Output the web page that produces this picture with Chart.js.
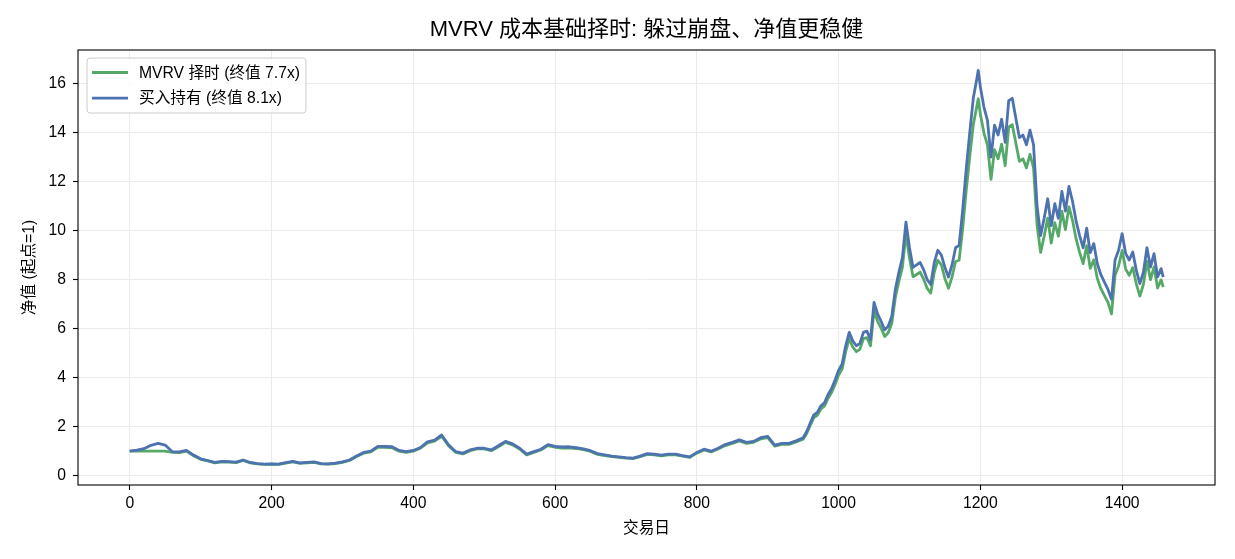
<!DOCTYPE html>
<html>
<head>
<meta charset="utf-8">
<script src="https://cdn.jsdelivr.net/npm/chart.js@4.4.1/dist/chart.umd.min.js"></script>
<style>
  body { margin: 0; background: #fff; }
  canvas { display: block; }
</style>
</head>
<body>
<canvas id="chart" width="1235" height="559"></canvas>
<script>
// 交易日
var days = [
  0, 10, 20, 30, 40, 50, 60, 70, 80, 90,
  100, 110, 120, 130, 140, 150, 160, 170, 180, 190,
  200, 210, 220, 230, 240, 250, 260, 270, 280, 290,
  300, 310, 320, 330, 340, 350, 360, 370, 380, 390,
  400, 410, 420, 430, 440, 450, 460, 470, 480, 490,
  500, 510, 520, 530, 540, 550, 560, 570, 580, 590,
  600, 610, 620, 630, 640, 650, 660, 670, 680, 690,
  700, 710, 720, 730, 740, 750, 760, 770, 780, 790,
  800, 810, 820, 830, 840, 850, 860, 870, 880, 890,
  900, 910, 920, 930, 940, 950,
  955, 960, 965, 970, 975, 980, 985, 990, 995, 1000,
  1005, 1010, 1015, 1020, 1025, 1030, 1035, 1040, 1045, 1050,
  1055, 1060, 1065, 1070, 1075, 1080, 1085, 1090, 1095, 1100,
  1105, 1110, 1115, 1120, 1125, 1130, 1135, 1140, 1145, 1150,
  1155, 1160, 1165, 1170, 1175, 1180, 1185, 1190, 1195, 1197,
  1200, 1205, 1210, 1215, 1220, 1225, 1230, 1235, 1240, 1245,
  1250, 1255, 1260, 1265, 1270, 1275, 1280, 1285, 1290, 1295,
  1300, 1305, 1310, 1315, 1320, 1325, 1330, 1335, 1340, 1345,
  1350, 1355, 1360, 1365, 1370, 1375, 1380, 1385, 1390, 1395,
  1400, 1405, 1410, 1415, 1420, 1425, 1430, 1435, 1440, 1445,
  1450, 1455, 1458
];

// MVRV 择时 净值
var mvrvValues = [
  1.00, 1.00, 1.00, 1.00, 1.00, 1.00, 0.95, 0.94, 1.00, 0.81,
  0.67, 0.60, 0.52, 0.56, 0.55, 0.53, 0.62, 0.52, 0.48, 0.46,
  0.47, 0.46, 0.51, 0.56, 0.50, 0.52, 0.54, 0.48, 0.47, 0.49,
  0.54, 0.62, 0.78, 0.92, 0.97, 1.16, 1.16, 1.14, 1.00, 0.95,
  1.00, 1.12, 1.34, 1.41, 1.61, 1.21, 0.95, 0.89, 1.02, 1.09,
  1.09, 1.02, 1.18, 1.36, 1.26, 1.09, 0.85, 0.95, 1.05, 1.23,
  1.16, 1.13, 1.14, 1.11, 1.06, 0.99, 0.87, 0.82, 0.78, 0.75,
  0.72, 0.70, 0.78, 0.87, 0.85, 0.81, 0.85, 0.85, 0.80, 0.75,
  0.92, 1.05, 0.97, 1.09, 1.23, 1.32, 1.42, 1.32, 1.36, 1.50,
  1.55, 1.21, 1.28, 1.28, 1.38, 1.49,
  1.72, 2.05, 2.37, 2.46, 2.72, 2.84, 3.15, 3.39, 3.72, 4.11,
  4.35, 5.06, 5.59, 5.25, 5.06, 5.16, 5.59, 5.63, 5.30, 6.75,
  6.30, 6.02, 5.68, 5.83, 6.21, 7.26, 7.93, 8.50, 9.88, 8.88,
  8.12, 8.21, 8.31, 8.02, 7.64, 7.45, 8.31, 8.79, 8.60, 8.04,
  7.65, 8.10, 8.74, 8.79, 10.07, 11.63, 13.02, 14.32, 15.07, 15.38,
  14.75, 13.99, 13.49, 12.09, 13.30, 12.93, 13.53, 12.65, 14.23, 14.32,
  13.58, 12.83, 12.93, 12.56, 13.11, 12.56, 10.23, 9.11, 9.77, 10.51,
  9.49, 10.32, 9.77, 10.79, 10.04, 10.97, 10.42, 9.67, 9.11, 8.65,
  9.39, 8.46, 8.81, 8.04, 7.63, 7.35, 7.07, 6.60, 8.18, 8.56,
  9.19, 8.43, 8.18, 8.49, 7.83, 7.33, 7.80, 8.74, 8.00, 8.52,
  7.66, 7.99, 7.70
];

// 买入持有 净值
var holdValues = [
  1.00, 1.04, 1.10, 1.24, 1.32, 1.25, 0.98, 0.97, 1.03, 0.84,
  0.69, 0.62, 0.54, 0.58, 0.57, 0.55, 0.64, 0.54, 0.49, 0.47,
  0.48, 0.47, 0.53, 0.58, 0.52, 0.54, 0.56, 0.49, 0.48, 0.51,
  0.56, 0.64, 0.80, 0.95, 1.00, 1.20, 1.20, 1.18, 1.03, 0.98,
  1.03, 1.15, 1.38, 1.45, 1.66, 1.25, 0.98, 0.92, 1.05, 1.12,
  1.12, 1.05, 1.22, 1.40, 1.30, 1.12, 0.88, 0.98, 1.08, 1.27,
  1.20, 1.17, 1.18, 1.14, 1.09, 1.02, 0.90, 0.85, 0.80, 0.77,
  0.74, 0.72, 0.80, 0.90, 0.88, 0.84, 0.88, 0.88, 0.82, 0.77,
  0.95, 1.08, 1.00, 1.12, 1.27, 1.36, 1.46, 1.36, 1.40, 1.55,
  1.60, 1.25, 1.32, 1.32, 1.42, 1.55,
  1.80, 2.15, 2.48, 2.58, 2.85, 2.97, 3.30, 3.55, 3.90, 4.30,
  4.56, 5.30, 5.85, 5.50, 5.30, 5.40, 5.85, 5.90, 5.55, 7.07,
  6.60, 6.30, 5.95, 6.10, 6.50, 7.60, 8.30, 8.90, 10.35, 9.30,
  8.50, 8.60, 8.70, 8.40, 8.00, 7.80, 8.70, 9.20, 9.00, 8.50,
  8.10, 8.60, 9.30, 9.40, 10.83, 12.50, 14.00, 15.40, 16.20, 16.54,
  15.86, 15.04, 14.50, 13.00, 14.30, 13.90, 14.55, 13.60, 15.30, 15.40,
  14.60, 13.80, 13.90, 13.50, 14.10, 13.50, 11.00, 9.80, 10.50, 11.30,
  10.20, 11.10, 10.50, 11.60, 10.80, 11.80, 11.20, 10.40, 9.80, 9.30,
  10.10, 9.10, 9.47, 8.65, 8.20, 7.90, 7.60, 7.20, 8.80, 9.20,
  9.88, 9.06, 8.80, 9.13, 8.38, 7.84, 8.30, 9.30, 8.51, 9.06,
  8.11, 8.45, 8.10
];

var chartTitle = 'MVRV 成本基础择时: 躲过崩盘、净值更稳健';
var seriesLabels = ['MVRV 择时 (终值 7.7x)', '买入持有 (终值 8.1x)'];
var xTicks = [0, 200, 400, 600, 800, 1000, 1200, 1400];
var yTicks = [0, 2, 4, 6, 8, 10, 12, 14, 16];

var FONT = "'Liberation Sans', 'Noto Sans CJK SC', sans-serif";
var FS = 15.7;

function toPoints(values) {
    return days.map(function (d, i) { return { x: d, y: values[i] }; });
}

// titre centre sur les axes, cadre complet + legende dans la zone du graphique
var frameLegend = {
    id: 'frameLegend',
    afterDraw: function (chart) {
        var ctx = chart.ctx;
        var a = chart.chartArea;
        ctx.save();
        ctx.strokeStyle = '#000';
        ctx.lineWidth = 1.1;
        ctx.strokeRect(a.left, a.top, a.right - a.left, a.bottom - a.top);

        ctx.fillStyle = '#000';
        ctx.font = '22px ' + FONT;
        ctx.textAlign = 'center';
        ctx.textBaseline = 'middle';
        ctx.fillText(chartTitle, (a.left + a.right) / 2, 30);

        ctx.font = FS + 'px ' + FONT;
        var sets = chart.data.datasets;
        var maxW = 0;
        sets.forEach(function (ds) {
            maxW = Math.max(maxW, ctx.measureText(ds.label).width);
        });
        var bx = a.left + 9, by = a.top + 8;
        var textX = bx + 52;
        var bw = textX + maxW + 6 - bx, bh = 55;
        var r = 3;
        ctx.beginPath();
        ctx.moveTo(bx + r, by);
        ctx.arcTo(bx + bw, by, bx + bw, by + bh, r);
        ctx.arcTo(bx + bw, by + bh, bx, by + bh, r);
        ctx.arcTo(bx, by + bh, bx, by, r);
        ctx.arcTo(bx, by, bx + bw, by, r);
        ctx.closePath();
        ctx.fillStyle = 'rgba(255,255,255,0.8)';
        ctx.fill();
        ctx.strokeStyle = '#cccccc';
        ctx.lineWidth = 1;
        ctx.stroke();

        sets.forEach(function (ds, i) {
            var y = by + 14.5 + i * 25.6;
            ctx.beginPath();
            ctx.moveTo(bx + 5, y);
            ctx.lineTo(bx + 41, y);
            ctx.strokeStyle = ds.borderColor;
            ctx.lineWidth = 2.8;
            ctx.stroke();
            ctx.fillStyle = '#000';
            ctx.textBaseline = 'middle';
            ctx.textAlign = 'left';
            ctx.fillText(ds.label, textX, y + 1);
        });
        ctx.restore();
    }
};

var ctx = document.getElementById('chart');
var myChart = new Chart(ctx, {
    type: 'line',
    data: {
        datasets: [{
            label: seriesLabels[0],
            data: toPoints(mvrvValues),
            borderColor: '#55a868',
            backgroundColor: '#55a868',
            borderWidth: 2.8,
            pointRadius: 0,
            tension: 0,
            borderJoinStyle: 'round',
            order: 2
        }, {
            label: seriesLabels[1],
            data: toPoints(holdValues),
            borderColor: '#4c72b0',
            backgroundColor: '#4c72b0',
            borderWidth: 2.8,
            pointRadius: 0,
            tension: 0,
            borderJoinStyle: 'round',
            order: 1
        }]
    },
    options: {
        responsive: false,
        devicePixelRatio: 1,
        animation: false,
        layout: { padding: { left: 0, right: 20, top: 50, bottom: 0 } },
        plugins: {
            legend: { display: false },
            tooltip: { enabled: false },
            title: { display: false }
        },
        scales: {
            x: {
                type: 'linear',
                min: -73,
                max: 1531,
                afterBuildTicks: function (scale) {
                    scale.ticks = xTicks.map(function (v) { return { value: v }; });
                },
                afterFit: function (scale) { scale.height = 74; },
                ticks: {
                    color: '#000',
                    font: { family: FONT, size: FS },
                    padding: 4,
                    maxRotation: 0,
                    callback: function (v) { return String(v); }
                },
                grid: { color: '#ebebeb', lineWidth: 1, tickColor: '#000', tickLength: 5, tickWidth: 1.1 },
                border: { display: false },
                title: {
                    display: true,
                    text: '交易日',
                    color: '#000',
                    font: { family: FONT, size: FS },
                    padding: { top: 0, bottom: 20.6 }
                }
            },
            y: {
                type: 'linear',
                min: -0.38,
                max: 17.37,
                afterBuildTicks: function (scale) {
                    scale.ticks = yTicks.map(function (v) { return { value: v }; });
                },
                afterFit: function (scale) { scale.width = 78; },
                ticks: {
                    color: '#000',
                    font: { family: FONT, size: FS },
                    padding: 7,
                    callback: function (v) { return String(v); }
                },
                grid: { color: '#ebebeb', lineWidth: 1, tickColor: '#000', tickLength: 5, tickWidth: 1.1 },
                border: { display: false },
                title: {
                    display: true,
                    text: '净值 (起点=1)',
                    color: '#000',
                    font: { family: FONT, size: FS },
                    padding: { top: 20.6, bottom: 0 }
                }
            }
        }
    },
    plugins: [frameLegend]
});
</script>
</body>
</html>
